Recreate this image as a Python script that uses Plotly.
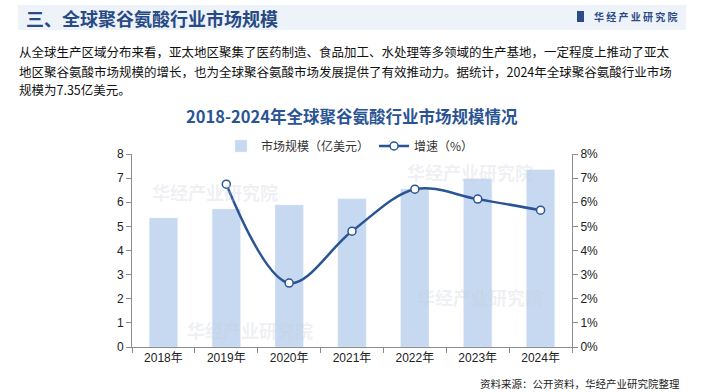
import plotly.graph_objects as go

years = ["2018年", "2019年", "2020年", "2021年", "2022年", "2023年", "2024年"]
market_size = [5.35, 5.72, 5.89, 6.14, 6.55, 6.97, 7.35]
growth_years = ["2019年", "2020年", "2021年", "2022年", "2023年", "2024年"]
growth_rate = [6.75, 2.65, 4.8, 6.54, 6.13, 5.67]

W, H = 705, 392
L, R, T, B = 132, 572, 154, 347

CJK = "Noto Sans CJK SC, Liberation Sans, sans-serif"
NUM = "Liberation Sans, Arial, Noto Sans CJK SC, sans-serif"

fig = go.Figure()
fig.add_trace(go.Bar(
    x=years, y=market_size, name="市场规模（亿美元）",
    marker=dict(color="#c6d9f1"), width=0.45, yaxis="y",
))
fig.add_trace(go.Scatter(
    x=growth_years, y=growth_rate, name="增速（%）", yaxis="y2",
    mode="lines+markers", line=dict(color="#2a5494", width=2.5, shape="spline", smoothing=1.0),
    marker=dict(symbol="circle", size=8, color="white", line=dict(color="#2a5494", width=1.5)),
))

def fx(x):
    return (x - L) / (R - L)

def fy(y):
    return (B - y) / (B - T)

fig.update_layout(
    width=W, height=H,
    margin=dict(l=L, r=W - R, t=T, b=H - B, autoexpand=False),
    paper_bgcolor="white", plot_bgcolor="white",
    font=dict(family=NUM, size=12, color="#222222"),
    showlegend=True,
    legend=dict(orientation="h", x=fx(350), xanchor="center", y=fy(146), yanchor="middle",
                font=dict(family=CJK, size=12, color="#333333"), bgcolor="rgba(0,0,0,0)",
                itemwidth=30, tracegroupgap=0),
    xaxis=dict(type="category", showline=True, linecolor="#8c8c8c", linewidth=1,
               ticks="outside", tickson="boundaries", ticklen=5, tickcolor="#8c8c8c",
               tickfont=dict(family=NUM, size=12, color="#222222"), showgrid=False),
    yaxis=dict(range=[0, 8], dtick=1, showline=True, linecolor="#8c8c8c", linewidth=1,
               ticks="outside", ticklen=5, tickcolor="#8c8c8c", showgrid=False, zeroline=False,
               tickfont=dict(family=NUM, size=12, color="#222222")),
    yaxis2=dict(range=[0, 8], dtick=1, overlaying="y", side="right", ticksuffix="%",
                showline=True, linecolor="#8c8c8c", linewidth=1,
                ticks="outside", ticklen=5, tickcolor="#8c8c8c", showgrid=False, zeroline=False,
                tickfont=dict(family=NUM, size=12, color="#222222")),
)

# header band
fig.add_shape(type="rect", xref="paper", yref="paper",
              x0=fx(18), x1=fx(686), y0=fy(30), y1=fy(5),
              fillcolor="#eef3fa", line=dict(width=0), layer="below")

def ann(text, x, y, size, color, xanchor="left", bold=False, family=CJK):
    if bold:
        text = "<b>" + text + "</b>"
    fig.add_annotation(text=text, x=fx(x), y=fy(y), xref="paper", yref="paper",
                       xanchor=xanchor, yanchor="middle", showarrow=False,
                       font=dict(family=family, size=size, color=color))

# faint watermarks inside the chart
for (wx, wy) in [(470, 172), (215, 192), (480, 297), (250, 330)]:
    ann("华经产业研究院", wx, wy, 18, "rgba(200,205,215,0.30)", xanchor="center", bold=True)

ann("三、全球聚谷氨酸行业市场规模", 24, 18, 18, "#274a85", bold=True)
ann("华 经 产 业 研 究 院", 592, 17, 10, "#2d4c86", bold=True)
fig.add_shape(type="rect", xref="paper", yref="paper",
              x0=fx(577), x1=fx(584), y0=fy(22), y1=fy(11),
              fillcolor="#2d4c86", line=dict(width=0))

body = ["从全球生产区域分布来看，亚太地区聚集了医药制造、食品加工、水处理等多领域的生产基地，一定程度上推动了亚太",
        "地区聚谷氨酸市场规模的增长，也为全球聚谷氨酸市场发展提供了有效推动力。据统计，2024年全球聚谷氨酸行业市场",
        "规模为7.35亿美元。"]
for i, line in enumerate(body):
    ann(line, 17, 52 + i * 19, 12.5, "#111111")

ann("2018-2024年全球聚谷氨酸行业市场规模情况", 352, 116, 16.5, "#2a5494", xanchor="center", bold=True)
ann("资料来源：公开资料，华经产业研究院整理", 682, 383, 10.5, "#222222", xanchor="right")

fig.write_html("out.html", config={"displayModeBar": False},
               post_script="document.body.style.margin='0px';document.body.style.overflow='hidden';")
